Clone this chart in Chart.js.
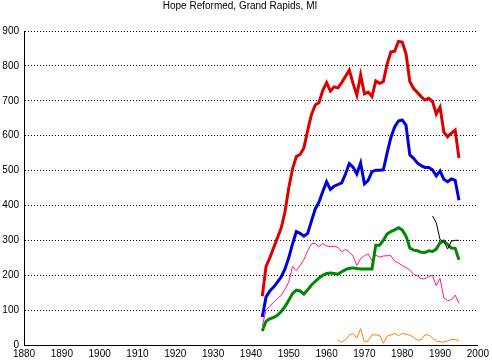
<!DOCTYPE html>
<html>
<head>
<meta charset="utf-8">
<script src="https://cdn.jsdelivr.net/npm/chart.js@4.4.0/dist/chart.umd.min.js"></script>
<style>
  html, body { margin: 0; padding: 0; background: #fff; }
  #wrap { width: 492px; height: 361px; }
</style>
</head>
<body>
<div id="wrap"><canvas id="hopeChart" width="492" height="361"></canvas></div>
<script>
// Años y series
const years = [
  1943, 1944, 1945, 1946, 1947, 1948, 1949, 1950, 1951, 1952,
  1953, 1954, 1955, 1956, 1957, 1958, 1959, 1960, 1961, 1962,
  1963, 1964, 1965, 1966, 1967, 1968, 1969, 1970, 1971, 1972,
  1973, 1974, 1975, 1976, 1977, 1978, 1979, 1980, 1981, 1982,
  1983, 1984, 1985, 1986, 1987, 1988, 1989, 1990, 1991, 1992,
  1993, 1994, 1995
];

const redSeries = [
  140, 225, 250, 279, 307, 335, 382, 450, 505, 540,
  546, 565, 615, 660, 688, 695, 730, 752, 728, 740,
  737, 752, 770, 788, 750, 716, 774, 720, 725, 712,
  757, 750, 755, 805, 840, 842, 870, 868, 835, 755,
  735, 724, 712, 702, 707, 698, 662, 682, 610, 597,
  607, 616, 536
];

const blueSeries = [
  80, 138, 155, 166, 180, 195, 218, 250, 290, 325,
  320, 312, 320, 355, 390, 410, 440, 468, 446, 455,
  460, 465, 490, 520, 510, 490, 522, 462, 472, 497,
  501, 501, 502, 550, 595, 625, 642, 645, 630, 545,
  535, 522, 514, 509, 509, 502, 485, 499, 475, 468,
  476, 472, 415
];

const greenSeries = [
  40, 68, 75, 79, 85, 96, 110, 128, 148, 157,
  155, 146, 158, 172, 182, 192, 200, 205, 206, 205,
  203, 210, 216, 220, 221, 219, 218, 218, 218, 218,
  286, 286, 300, 318, 325, 330, 336, 330, 312, 278,
  272, 270, 266, 265, 270, 268, 275, 293, 298, 288,
  278, 277, 244
];

const pinkSeries = [
  55, 100, 112, 122, 133, 142, 160, 180, 225, 213,
  228, 245, 270, 290, 291, 282, 291, 284, 282, 283,
  280, 267, 274, 267, 255, 228, 248, 256, 261, 242,
  258, 252, 255, 256, 256, 240, 235, 228, 222, 215,
  203, 198, 190, 190, 197, 199, 170, 191, 135, 127,
  130, 143, 119
];

const orangeSeries = [
  null, null, null, null, null, null, null, null, null, null,
  null, null, null, null, null, null, null, null, null, null,
  14, 8, 15, 28, 33, 20, 47, 9, 12, 29,
  29, 28, 5, 25, 29, 33, 27, 33, 31, 28,
  22, 14, 15, 29, 29, 20, 12, 9, 8, 12,
  16, 16, 12
];

const blackSeries = [
  null, null, null, null, null, null, null, null, null, null,
  null, null, null, null, null, null, null, null, null, null,
  null, null, null, null, null, null, null, null, null, null,
  null, null, null, null, null, null, null, null, null, null,
  null, null, null, null, null, 370, 350, 302, 297, 275,
  298, 300, 300
];

const xTicks = [1880, 1890, 1900, 1910, 1920, 1930, 1940, 1950, 1960, 1970, 1980, 1990, 2000];
const yTicks = [0, 100, 200, 300, 400, 500, 600, 700, 800, 900];

function puntos(serie) {
  return years.map((y, i) => ({ x: y, y: serie[i] }));
}

function linea(serie, color, ancho) {
  return {
    data: puntos(serie),
    borderColor: color,
    backgroundColor: color,
    borderWidth: ancho,
    pointRadius: 0,
    tension: 0,
    spanGaps: false
  };
}

document.addEventListener("DOMContentLoaded", () => {
  const ctx = document.getElementById("hopeChart").getContext("2d");
  const fuente = { family: "'Liberation Sans', Arial, sans-serif", size: 10 };

  new Chart(ctx, {
    type: "line",
    data: {
      datasets: [
        linea(blackSeries, "#000000", 1),
        linea(redSeries, "#dd0000", 3),
        linea(blueSeries, "#0000dd", 3),
        linea(greenSeries, "#008800", 3),
        linea(pinkSeries, "#ff1493", 1),
        linea(orangeSeries, "#ff7f00", 1)
      ]
    },
    options: {
      responsive: false,
      animation: false,
      layout: { padding: { left: 0, right: 12, top: 0, bottom: 0 } },
      plugins: {
        legend: { display: false },
        tooltip: { enabled: false },
        title: {
          display: true,
          text: "Hope Reformed, Grand Rapids, MI",
          color: "#000",
          font: { ...fuente, weight: "normal", lineHeight: 1.2 },
          padding: { top: 0, bottom: 19 }
        }
      },
      scales: {
        x: {
          type: "linear",
          min: 1880,
          max: 2000,
          afterBuildTicks: (axis) => { axis.ticks = xTicks.map(v => ({ value: v })); },
          afterFit: (axis) => { axis.height = 16; },
          grid: { display: false, drawTicks: false },
          border: { display: true, color: "#000", width: 1 },
          ticks: { color: "#000", font: fuente, padding: 3, maxRotation: 0, autoSkip: false, callback: v => String(v) }
        },
        y: {
          min: 0,
          max: 900,
          afterBuildTicks: (axis) => { axis.ticks = yTicks.map(v => ({ value: v })); },
          afterFit: (axis) => { axis.width = 24; },
          grid: { color: "#000", lineWidth: 1, drawTicks: false },
          border: { display: true, color: "#000", width: 1, dash: [1, 2] },
          ticks: { color: "#000", font: fuente, padding: 5 }
        }
      }
    }
  });
});
</script>
</body>
</html>
